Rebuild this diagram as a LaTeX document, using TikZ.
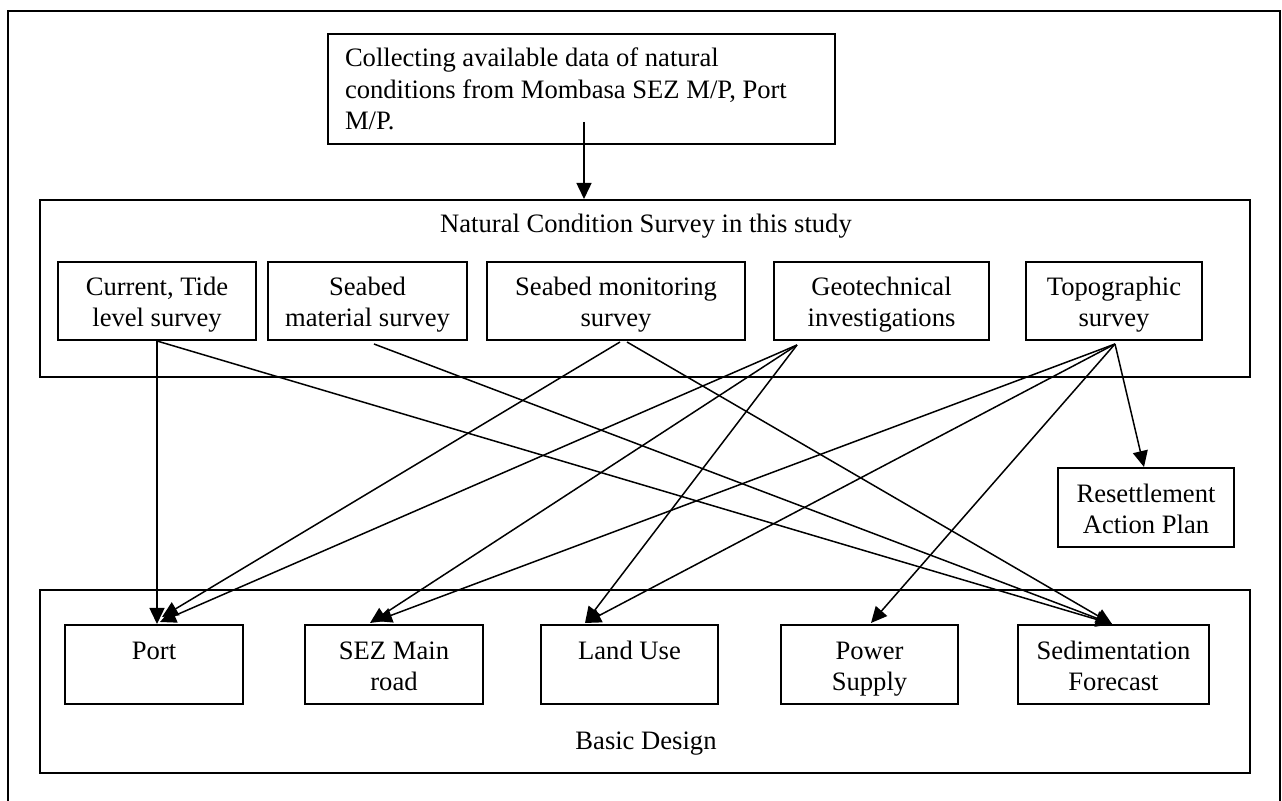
\documentclass[tikz,border=0pt]{standalone}
\usepackage{fontspec}
\setmainfont{Liberation Serif}
\usetikzlibrary{arrows.meta}
\newcommand{\twol}[2]{\raisebox{-2pt}[\height][\depth]{\begin{tabular}{@{}c@{}}#1\\#2\end{tabular}}}
\begin{document}
\begin{tikzpicture}[x=0.5pt,y=-0.5pt,
  every node/.style={font=\fontsize{13.3}{15.7}\selectfont},
  box/.style={draw,line width=1pt,inner sep=0pt,align=center},
  txt/.style={inner sep=0pt,align=center},
  conn/.style={line width=0.75pt,-{Triangle[length=8pt,width=7.5pt]}}]
\useasboundingbox (0,0) rectangle (1282,801);
% outer frame
\draw[line width=1pt] (8,801) -- (8,11) -- (1280,11) -- (1280,801);
% top box
\node[box,align=flush left,text width=236.5pt,inner xsep=8.5pt,minimum height=55pt] (collect) at (581.5,89)
  {Collecting available data of natural\\conditions from Mombasa SEZ M/P, Port\\M/P.};
% group boxes
\node[box,minimum width=605pt,minimum height=88.5pt] (natural) at (645,288.5) {};
\node[txt] (naturalt) at (646,226) {Natural Condition Survey in this study};
\node[box,minimum width=605pt,minimum height=91.5pt] (basic) at (645,681.5) {};
\node[txt] (basict) at (646,744) {Basic Design};
% survey boxes
\node[box,minimum width=99pt,minimum height=39pt] (ct) at (157,301) {\twol{Current, Tide}{level survey}};
\node[box,minimum width=99.5pt,minimum height=39pt] (sm) at (367.5,301) {\twol{Seabed}{material survey}};
\node[box,minimum width=129pt,minimum height=39pt] (smon) at (616,301) {\twol{Seabed monitoring}{survey}};
\node[box,minimum width=107.5pt,minimum height=39pt] (geo) at (881.5,301) {\twol{Geotechnical}{investigations}};
\node[box,minimum width=88pt,minimum height=39pt] (topo) at (1114,301) {\twol{Topographic}{survey}};
% resettlement
\node[box,minimum width=88pt,minimum height=39.5pt] (reset) at (1146,507.5) {\twol{Resettlement}{Action Plan}};
% design boxes
\node[box,minimum width=89pt,minimum height=39.5pt] (port) at (154,664.5) {\twol{Port}{\mbox{}}};
\node[box,minimum width=89pt,minimum height=39.5pt] (sez) at (394,664.5) {\twol{SEZ Main}{road}};
\node[box,minimum width=88.5pt,minimum height=39.5pt] (land) at (629.5,664.5) {\twol{Land Use}{\mbox{}}};
\node[box,minimum width=88.5pt,minimum height=39.5pt] (power) at (869.5,664.5) {\twol{Power}{Supply}};
\node[box,minimum width=95.5pt,minimum height=39.5pt] (sed) at (1113.5,664.5) {\twol{Sedimentation}{Forecast}};
% connectors
\coordinate (cstart) at ([shift={(2.5,33)}]collect.center);
\draw[conn] (cstart) -- (cstart |- natural.north);
\draw[conn] (ct.south) -- (ct.south |- port.north);
\draw[conn] (ct.south) -- ([shift={(-1.5,0)}]sed.north);
\draw[conn] ([shift={(6.5,3)}]sm.south) -- ([shift={(-1.5,0)}]sed.north);
\draw[conn] ([shift={(4,1)}]smon.south) -- ([shift={(8,-7)}]port.north);
\draw[conn] ([shift={(11,1)}]smon.south) -- ([shift={(-1.5,0)}]sed.north);
\draw[conn] ([shift={(-84.5,4)}]geo.south) -- ([shift={(6,-2)}]port.north);
\draw[conn] ([shift={(-84.5,4)}]geo.south) -- ([shift={(-24,-1)}]sez.north);
\draw[conn] ([shift={(-84.5,4)}]geo.south) -- ([shift={(-44.5,-1)}]land.north);
\draw[conn] ([shift={(1,3)}]topo.south) -- ([shift={(-18,-3)}]sez.north);
\draw[conn] ([shift={(1,3)}]topo.south) -- ([shift={(-44.5,-1)}]land.north);
\draw[conn] ([shift={(1,3)}]topo.south) -- ([shift={(1.5,-1)}]power.north);
\draw[conn] ([shift={(1,3)}]topo.south) -- ([shift={(-2,0)}]reset.north);
\end{tikzpicture}
\end{document}
